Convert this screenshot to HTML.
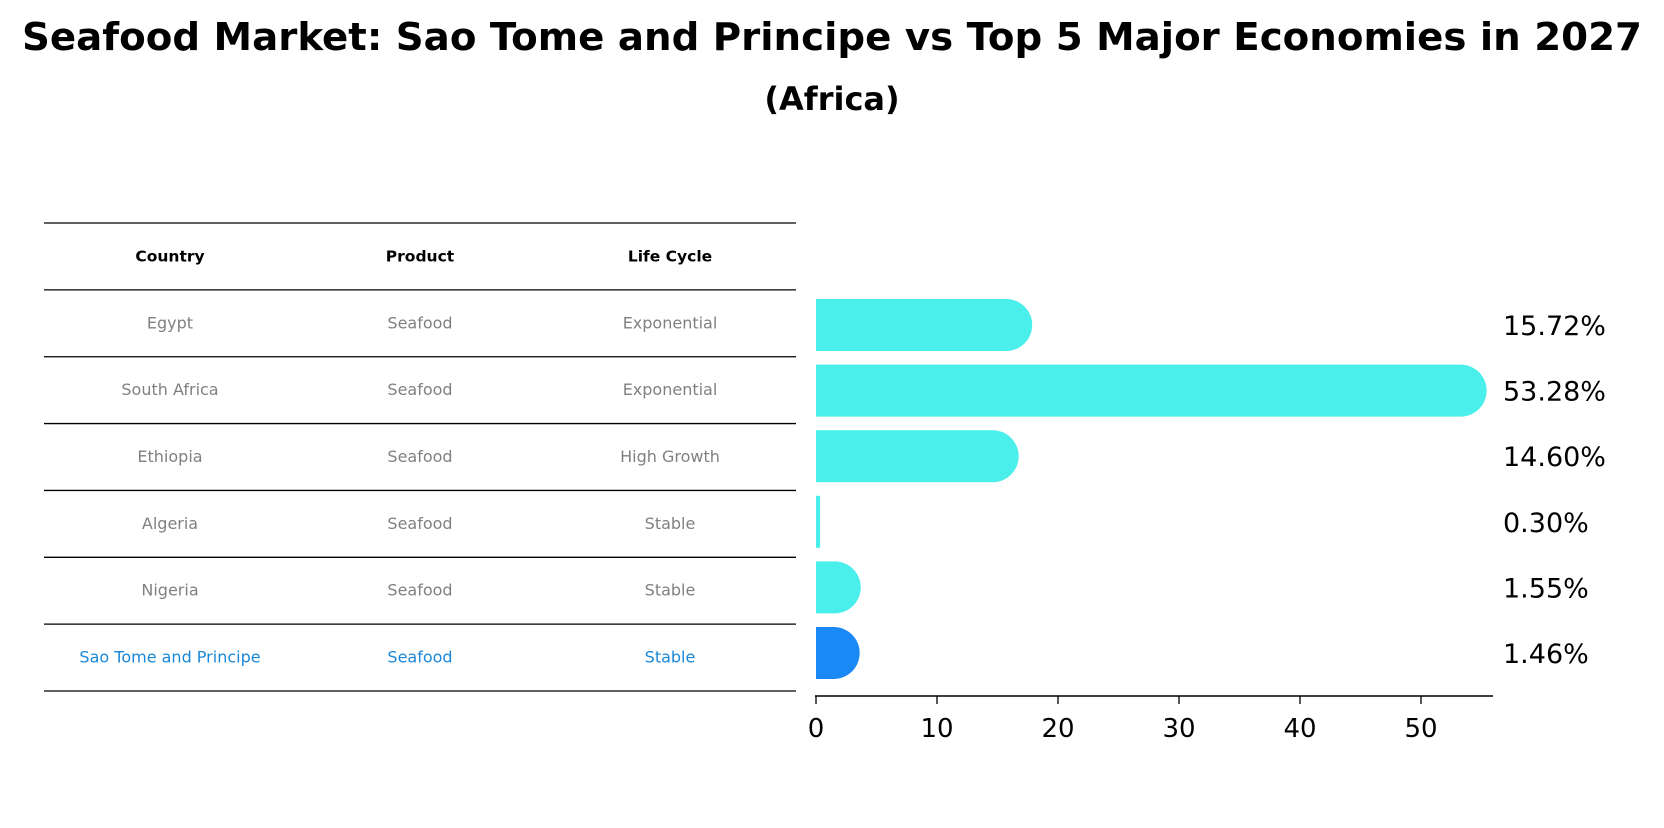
<!DOCTYPE html>
<html><head><meta charset="utf-8"><style>
body{margin:0;background:#fff;}
svg text{font-family:"DejaVu Sans","Liberation Sans",sans-serif;}
</style></head><body>
<svg width="1664" height="823" viewBox="0 0 1664 823" xmlns="http://www.w3.org/2000/svg" id="chart">
<text x="832" y="50" text-anchor="middle" font-size="38" font-weight="bold" textLength="1620" lengthAdjust="spacingAndGlyphs">Seafood Market: Sao Tome and Principe vs Top 5 Major Economies in 2027</text>
<text x="832" y="110" text-anchor="middle" font-size="32" font-weight="bold">(Africa)</text>
<g id="table"></g>
<g id="bars"></g>
<g id="axis"></g>
</svg>
<script>
const countries=["Egypt","South Africa","Ethiopia","Algeria","Nigeria","Sao Tome and Principe"];
const products=["Seafood","Seafood","Seafood","Seafood","Seafood","Seafood"];
const lifeCycles=["Exponential","Exponential","High Growth","Stable","Stable","Stable"];
const shares=[15.72,53.28,14.60,0.30,1.55,1.46];
const ticks=[0,10,20,30,40,50];

const NS="http://www.w3.org/2000/svg";
function mk(tag,attrs,parent,text){const e=document.createElementNS(NS,tag);for(const k in attrs)e.setAttribute(k,attrs[k]);if(text!==undefined)e.textContent=text;parent.appendChild(e);return e;}
const x=v=>816+v*12.1;
const rowY=i=>325+i*65.6;
const tbl=document.getElementById('table');
const lineY=i=>223+i*66.86;
for(let i=0;i<=countries.length+1;i++){
  const l=mk('line',{x1:44,x2:796,y1:lineY(i),y2:lineY(i),stroke:'#000','stroke-width':1.3},tbl);
  
  
}
const colX=[170,420,670];
const heads=["Country","Product","Life Cycle"];
heads.forEach((h,j)=>{
  const t=mk('text',{x:colX[j],y:(lineY(0)+lineY(1))/2+5,'text-anchor':'middle','font-size':15.5,'font-weight':'bold'},tbl,h);
  
  
});
countries.forEach((c,i)=>{
  const col=i===countries.length-1?'#1a88d8':'#808080';
  [c,products[i],lifeCycles[i]].forEach((v,j)=>{
    const t=mk('text',{x:colX[j],y:(lineY(i+1)+lineY(i+2))/2+5,'text-anchor':'middle','font-size':16,fill:col},tbl,v);
    
    
  });
});
const bars=document.getElementById('bars');
const h=52,r=26;
shares.forEach((v,i)=>{
  const col=i===shares.length-1?'#1a88f5':'#4aeeea';
  const cy=rowY(i);
  const w=Math.max(x(v)-x(0),2);
  const b=mk('rect',{x:x(0),y:cy-h/2,width:w+0.5,height:h,fill:col},bars);
  
  
  if(v>=1){
    const c=mk('path',{d:`M${x(v)},${cy-r} A${r},${r} 0 0 1 ${x(v)},${cy+r} Z`,fill:col},bars);
    
    
  }
  const t=mk('text',{x:1503,y:cy+10,'font-size':27},bars,v.toFixed(2)+'%');
  
  
});
const ax=document.getElementById('axis');
const al=mk('line',{x1:x(0)-1,x2:1493,y1:696,y2:696,stroke:'#000','stroke-width':1.6},ax);


ticks.forEach(t=>{
  const tl=mk('line',{x1:x(t),x2:x(t),y1:696,y2:704,stroke:'#000','stroke-width':1.3},ax);
  
  
  const tx=mk('text',{x:x(t),y:737,'text-anchor':'middle','font-size':26},ax,String(t));
  
  
});
</script>
</body></html>
